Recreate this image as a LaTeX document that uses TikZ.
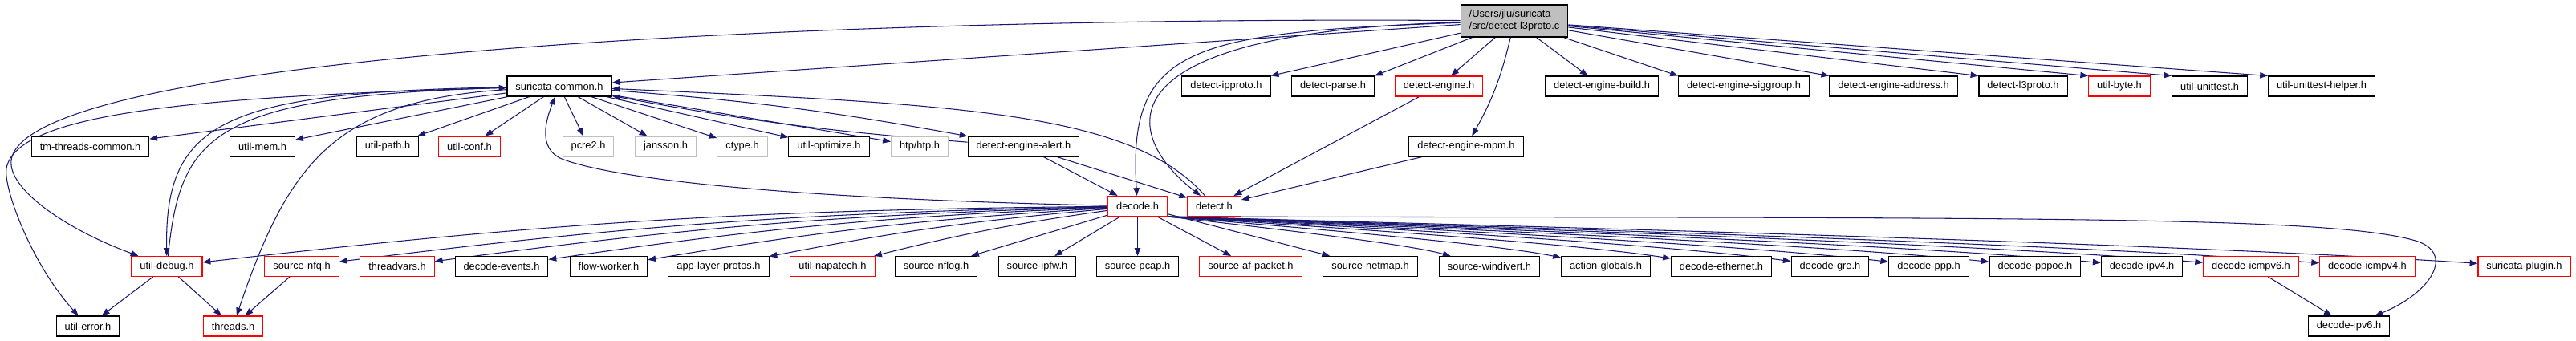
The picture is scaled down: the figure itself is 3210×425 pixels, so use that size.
\documentclass[tikz,border=0pt]{standalone}
\usepackage{fontspec}
\setmainfont{Liberation Sans}
\usepackage{tikz}
\usepackage{xcolor}
\usetikzlibrary{arrows.meta, positioning, backgrounds, calc}
\definecolor{mblue} {RGB}{ 25, 25,112}
\definecolor{bred}  {RGB}{255,  0,  0}
\definecolor{lgray} {RGB}{191,191,191}
\tikzset{
  % Black file node
  FB/.style={rectangle,draw=black,fill=white,minimum height=0.5cm,
             inner xsep=0.21cm,inner ysep=0pt,line width=0.6pt,
             font=\fontsize{7.3}{8.6}\selectfont},
  % Red file node (includes cut off)
  RF/.style={FB,draw=bred},
  % Gray system header node
  GF/.style={FB,draw=lgray},
  % Gray filled source file
  MF/.style={FB,fill=lgray,align=left,minimum height=0.8cm},
  % Arrows
  Arr/.style={-{Triangle[length=5.6pt,width=4.2pt]},line width=0.6pt,color=mblue},
}
\begin{document}
\begin{tikzpicture}[x=0.02cm,y=-0.02cm]
      \useasboundingbox (0,0) rectangle (3210,425);
      \node[MF] at (1887,26) (m) {/Users/jlu/suricata\\/src/detect-l3proto.c};
      % first row
      \node[FB] at (697,107.5)  (sc)     {suricata-common.h};
      \node[FB] at (1528,107.5) (dipp)   {detect-ipproto.h};
      \node[FB] at (1661,107.5) (dparse) {detect-parse.h};
      \node[RF] at (1793,107.5) (deng)   {detect-engine.h};
      \node[FB] at (1996,107.5) (dbuild) {detect-engine-build.h};
      \node[FB] at (2173,107.5) (dsig)   {detect-engine-siggroup.h};
      \node[FB] at (2359.5,107.5) (daddr) {detect-engine-address.h};
      \node[FB] at (2521,107.5) (dl3)    {detect-l3proto.h};
      \node[RF] at (2641,107.5) (ubyte)  {util-byte.h};
      \node[FB] at (2753.5,107.5) (utest) {util-unittest.h};
      \node[FB] at (2893,107.5) (uhelp)  {util-unittest-helper.h};
      % second row
      \node[FB] at (112.5,182.5) (tmc)   {tm-threads-common.h};
      \node[FB] at (327,182.5)  (umem)   {util-mem.h};
      \node[FB] at (483,182.5)  (upath)  {util-path.h};
      \node[RF] at (585,182.5)  (uconf)  {util-conf.h};
      \node[GF] at (733,182.5)  (pcre)   {pcre2.h};
      \node[GF] at (829.5,182.5) (jans)  {jansson.h};
      \node[GF] at (925,182.5)  (ctyp)   {ctype.h};
      \node[FB] at (1033,182.5) (uopt)   {util-optimize.h};
      \node[GF] at (1146,182.5) (htp)    {htp/htp.h};
      \node[FB] at (1275.5,182.5) (dalert) {detect-engine-alert.h};
      \node[FB] at (1827,182.5) (dmpm)   {detect-engine-mpm.h};
      % third row
      \node[RF] at (1417.5,257) (dcd)    {decode.h};
      \node[RF] at (1513,257)   (det)    {detect.h};
      % fourth row
      \node[RF] at (208,332)    (udbg)   {util-debug.h};
      \node[RF] at (376,332)    (snfq)   {source-nfq.h};
      \node[RF] at (495,332)    (tvars)  {threadvars.h};
      \node[FB] at (625,332)    (devts)  {decode-events.h};
      \node[FB] at (758.5,332)  (fwork)  {flow-worker.h};
      \node[FB] at (895.5,332)  (alp)    {app-layer-protos.h};
      \node[RF] at (1037.5,332) (unapa)  {util-napatech.h};
      \node[FB] at (1166.5,332) (snflog) {source-nflog.h};
      \node[FB] at (1292.5,332) (sipfw)  {source-ipfw.h};
      \node[FB] at (1417.5,332) (spcap)  {source-pcap.h};
      \node[RF] at (1558.5,332) (safp)   {source-af-packet.h};
      \node[FB] at (1707.5,332) (snetm)  {source-netmap.h};
      \node[FB] at (1856,332)   (swdiv)  {source-windivert.h};
      \node[FB] at (2001,332)   (actg)   {action-globals.h};
      \node[FB] at (2145,332)   (deth)   {decode-ethernet.h};
      \node[FB] at (2280.5,332) (dgre)   {decode-gre.h};
      \node[FB] at (2403.5,332) (dppp)   {decode-ppp.h};
      \node[FB] at (2536,332)   (dpppoe) {decode-pppoe.h};
      \node[FB] at (2669,332)   (dip4)   {decode-ipv4.h};
      \node[RF] at (2805,332)   (dicmp6) {decode-icmpv6.h};
      \node[RF] at (2950,332)   (dicmp4) {decode-icmpv4.h};
      \node[RF] at (3145.5,332) (splug)  {suricata-plugin.h};
      % bottom row
      \node[FB] at (109.5,406.5) (uerr)  {util-error.h};
      \node[RF] at (290.5,406.5) (thr)   {threads.h};
      \node[FB] at (2927,406.5)  (dip6)  {decode-ipv6.h};
      \begin{scope}[on background layer]
      % includes of the source file
      \draw[Arr] (m)--(sc);
      \draw[Arr] (m) .. controls (1000,20) and (30,70) .. (14,200)
                 .. controls (10,235) and (80,285) .. (udbg);
      \draw[Arr] (m) .. controls (1480,40) and (1405,60) .. (dcd);
      \draw[Arr] (m) .. controls (1360,40) and (1400,170) .. (det);
      \draw[Arr] (m) to[bend left=8] (dmpm);
      \draw[Arr] (m)--(dipp.north east);
      \draw[Arr] (m)--(dparse.north east);
      \foreach \n in {deng,dbuild}
        \draw[Arr] (m)--(\n);
      \foreach \n in {dsig,daddr,dl3,ubyte,utest,uhelp}
        \draw[Arr] (m)--(\n.north west);
      % suricata-common.h
      \foreach \n in {tmc,umem,upath,uconf,pcre,jans,ctyp,uopt,htp}
        \draw[Arr] (sc)--(\n);
      \draw[Arr] (sc) to[bend left=3] (dalert);
      \draw[Arr] (dalert) to[bend left=3] (sc);
      \draw[Arr] (sc) .. controls (250,120) and (20,140) .. (8,210)
                 .. controls (4,235) and (40,330) .. (uerr);
      \draw[Arr] (sc) .. controls (280,115) and (205,150) .. (udbg);
      \draw[Arr] (udbg) .. controls (225,170) and (260,120) .. (sc);
      \draw[Arr] (sc) .. controls (420,125) and (360,200) .. (thr);
      \draw[Arr] (dcd) .. controls (1000,248) and (770,225) .. (700,198)
                 .. controls (670,185) and (680,150) .. (sc);
      \draw[Arr] (det) .. controls (1410,140) and (1200,130) .. (sc);
      % detect headers
      \draw[Arr] (dalert)--(dcd);
      \draw[Arr] (dalert)--(det);
      \draw[Arr] (deng)--(det);
      \draw[Arr] (dmpm)--(det);
      % decode.h
      \foreach \n in {udbg,snfq,tvars,devts,fwork,alp,unapa}
        \draw[Arr] (dcd) to[bend right=3] (\n);
      \foreach \n in {snflog,sipfw,spcap,safp,snetm}
        \draw[Arr] (dcd)--(\n);
      \foreach \n/\x in {swdiv/1856,actg/2001,deth/2145,dgre/2280.5,dppp/2403.5,
                         dpppoe/2536,dip4/2669,dicmp6/2805,dicmp4/2950,splug/3145.5}
        \draw[Arr] (dcd.south east) .. controls ({1455+0.4*(\x-1455)},288)
                   and ({\x-0.25*(\x-1455)},305) .. (\n);
      \draw[Arr] (dcd.south east) .. controls (2500,272) and (2900,268) .. (3010,300)
                 .. controls (3060,315) and (3030,365) .. (dip6);
      % lower level
      \draw[Arr] (dicmp6)--(dip6);
      \draw[Arr] (udbg)--(uerr);
      \draw[Arr] (udbg)--(thr);
      \draw[Arr] (snfq)--(thr);
      \end{scope}
    \end{tikzpicture}
\end{document}
